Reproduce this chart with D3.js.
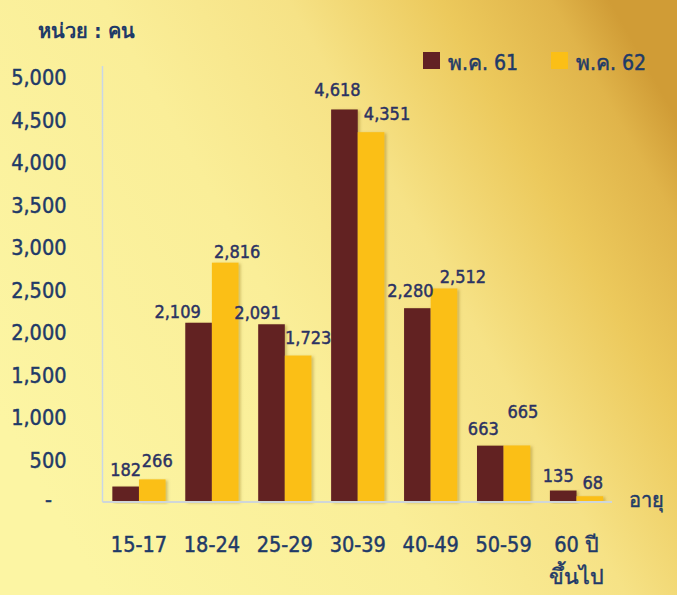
<!DOCTYPE html>
<html>
<head>
<meta charset="utf-8">
<script src="https://cdn.jsdelivr.net/npm/d3@7"></script>
<style>
  html, body { margin: 0; padding: 0; }
  body { width: 677px; height: 595px; overflow: hidden; }
  svg { display: block; }
  text { font-family: "DejaVu Sans Condensed", "DejaVu Sans", "Noto Sans", sans-serif; }
  .heavy { stroke-width: 0.45px; paint-order: stroke; }
</style>
</head>
<body>
<svg id="chart" width="677" height="595"></svg>
<script>
// ---- data ----
const categories = ["15-17", "18-24", "25-29", "30-39", "40-49", "50-59", "60 ปี\nขึ้นไป"];
const seriesNames = ["พ.ค. 61", "พ.ค. 62"];
const values61 = [182, 2109, 2091, 4618, 2280, 663, 135];
const values62 = [266, 2816, 1723, 4351, 2512, 665, 68];
const yTicks = [0, 500, 1000, 1500, 2000, 2500, 3000, 3500, 4000, 4500, 5000];
const unitLabel = "หน่วย : คน";
const xAxisTitle = "อายุ";

// ---- drawing ----
const W = 677, H = 595;
const svg = d3.select("#chart");
const navy = "#1f3a68";
const labelColor = "#2b3263";
const colors = ["#622124", "#fbbf16"];

// background gradient
const defs = svg.append("defs");
const grad = defs.append("linearGradient").attr("id", "bg")
  .attr("x1", "0%").attr("y1", "70%").attr("x2", "100%").attr("y2", "20%");
[["0%", "#fcf5a3"], ["40%", "#faee98"], ["62%", "#f6e286"], ["80%", "#ecc95c"], ["93%", "#e0b44a"], ["100%", "#d09c36"]]
  .forEach(([o, c]) => grad.append("stop").attr("offset", o).attr("stop-color", c));
const shadow = defs.append("filter").attr("id", "sh").attr("x", "-20%").attr("y", "-5%").attr("width", "150%").attr("height", "115%");
shadow.append("feDropShadow").attr("dx", 2).attr("dy", 1).attr("stdDeviation", 1.5)
  .attr("flood-color", "#7a5a10").attr("flood-opacity", 0.35);

svg.append("rect").attr("width", W).attr("height", H).attr("fill", "url(#bg)");

const plotLeft = 102.5, plotRight = 612, plotTop = 66, baseY = 502;

const x = d3.scaleBand().domain(categories).range([plotLeft, plotRight + 1]).paddingInner(0.27).paddingOuter(0.135);
const x1 = d3.scaleBand().domain([0, 1]).range([0, x.bandwidth()]).padding(0);
const y = d3.scaleLinear().domain([0, 5000]).range([baseY, 77]);

// plot frame line
svg.append("line").attr("x1", plotLeft).attr("x2", plotLeft).attr("y1", plotTop).attr("y2", baseY)
  .attr("stroke", "#c9d6e6").attr("stroke-width", 1.5);

// y axis
const yAxis = d3.axisLeft(y).tickValues(yTicks).tickSize(0).tickPadding(36)
  .tickFormat(d => d === 0 ? "-" : d3.format(",")(d));
const gy = svg.append("g").attr("transform", `translate(${plotLeft},0)`).call(yAxis);
gy.select(".domain").remove();
gy.selectAll("text").attr("fill", navy).attr("stroke", navy).attr("class", "heavy")
  .style("font-size", "21.5px").attr("dy", "0.36em");
gy.selectAll(".tick").filter(d => d === 0).select("text")
  .attr("text-anchor", "middle").attr("x", -54).attr("dy", "0.2em");

// bars
const groups = svg.append("g").selectAll("g").data(categories).join("g")
  .attr("transform", d => `translate(${x(d)},0)`);
const barData = (c, i) => [
  { s: 0, v: values61[i] },
  { s: 1, v: values62[i] }
];
groups.selectAll("rect").data((c, i) => barData(c, i)).join("rect")
  .attr("x", d => x1(d.s)).attr("width", x1.bandwidth())
  .attr("y", d => y(d.v)).attr("height", d => baseY - y(d.v))
  .attr("fill", d => colors[d.s]).attr("filter", "url(#sh)");

// x axis
const xAxis = d3.axisBottom(x).tickSize(0).tickPadding(0).tickFormat(() => "");
const gx = svg.append("g").attr("transform", `translate(0,${baseY})`).call(xAxis);
gx.select(".domain").attr("stroke", "#cfd6d8").attr("stroke-width", 2).attr("d", `M${plotLeft},0H${plotRight}`);
gx.selectAll(".tick").each(function (d) {
  const lines = d.split("\n");
  const t = d3.select(this).append("text").attr("fill", navy).attr("stroke", navy).attr("class", "heavy")
    .attr("text-anchor", "middle").style("font-size", "21.5px");
  lines.forEach((ln, k) => t.append("tspan").attr("x", 0).attr("y", 50 + k * 32).text(ln));
});

// data labels (manual nudges like the original layout)
const nudge61 = [[0, 17], [-21, 11], [-14, 12], [-7, 20], [-7, 18], [-7, 17], [-5, 15]];
const nudge62 = [[5, 19], [12, 11], [10, 18], [16, 19], [19, 12], [6, 34], [3, 14]];
groups.selectAll("text.val").data((c, i) => barData(c, i).map(d => ({ ...d, i }))).join("text")
  .attr("class", "val heavy")
  .attr("x", d => x1(d.s) + x1.bandwidth() / 2 + (d.s === 0 ? nudge61 : nudge62)[d.i][0])
  .attr("y", d => y(d.v) - (d.s === 0 ? nudge61 : nudge62)[d.i][1])
  .attr("dy", "0.36em")
  .attr("text-anchor", "middle").attr("fill", labelColor).attr("stroke", labelColor)
  .style("font-size", "18px")
  .text(d => d3.format(",")(d.v));

// unit title
svg.append("text").attr("x", 38).attr("y", 31).attr("dy", "0.36em").attr("fill", navy)
  .style("font-size", "20px").style("font-weight", "bold").text(unitLabel);

// x axis title
svg.append("text").attr("x", 629).attr("y", 500).attr("dy", "0.36em").attr("fill", navy)
  .attr("stroke", navy).attr("class", "heavy")
  .style("font-size", "20px").text(xAxisTitle);

// legend
const legend = svg.append("g");
const legX = [423, 551];
seriesNames.forEach((n, i) => {
  legend.append("rect").attr("x", legX[i]).attr("y", 52).attr("width", 17).attr("height", 17).attr("fill", colors[i]);
  legend.append("text").attr("x", legX[i] + 25).attr("y", 62).attr("dy", "0.36em").attr("fill", navy)
    .attr("stroke", navy).attr("class", "heavy")
    .style("font-size", "21px").text(n);
});
</script>
</body>
</html>
